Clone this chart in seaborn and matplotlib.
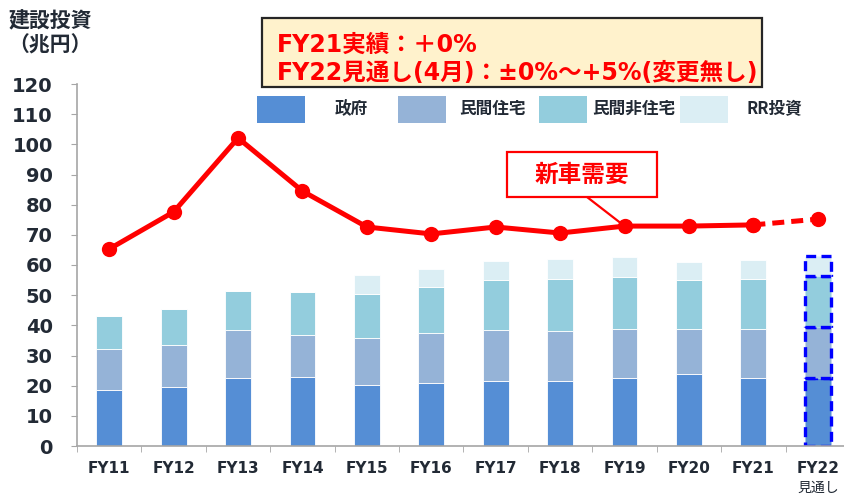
import numpy as np
import pandas as pd
import seaborn as sns
import matplotlib.pyplot as plt
from matplotlib.patches import Rectangle
from matplotlib.ticker import MultipleLocator, FixedLocator

# Data (兆円)
years = ['FY11', 'FY12', 'FY13', 'FY14', 'FY15', 'FY16',
         'FY17', 'FY18', 'FY19', 'FY20', 'FY21', 'FY22']
gov = [18.6, 19.7, 22.4, 22.8, 20.1, 21.0, 21.5, 21.5, 22.5, 23.9, 22.5, 22.6]
housing = [13.4, 13.9, 15.9, 14.1, 15.8, 16.5, 17.1, 16.6, 16.3, 14.9, 16.3, 16.9]
non_res = [11.2, 11.7, 13.0, 14.2, 14.6, 15.2, 16.4, 17.1, 17.2, 16.2, 16.6, 16.8]
rr = [0.0, 0.0, 0.0, 0.0, 6.3, 6.1, 6.3, 6.7, 6.6, 6.0, 6.3, 6.7]
new_car = [65.3, 77.6, 102.1, 84.5, 72.6, 70.3, 72.6, 70.6, 72.9, 72.9, 73.3, 75.2]

series_names = ['政府', '民間住宅', '民間非住宅', 'RR投資']
series_colors = ['#558ED5', '#95B3D7', '#93CDDD', '#DBEEF4']

sns.set_style('white')
plt.rcParams['font.family'] = ['DejaVu Sans', 'Noto Sans CJK JP']
jp = ['Noto Sans CJK JP', 'DejaVu Sans']
dark = '#222a35'
grey = '#a6a6a6'

df = pd.DataFrame({'year': years, '政府': gov, '民間住宅': housing,
                   '民間非住宅': non_res, 'RR投資': rr})

fig = plt.figure(figsize=(8.45, 4.95), dpi=100)
ax = fig.add_axes([77/845, 49/495, 773/845, 362/495])

# Stacked bars
bottom = np.zeros(len(years))
for name, col in zip(series_names, series_colors):
    sns.barplot(data=df, x='year', y=name, order=years, color=col, width=0.4,
                saturation=1, bottom=bottom, edgecolor='white', linewidth=0.6,
                ax=ax)
    bottom = bottom + df[name].values

# FY22 outlook bars: dashed blue outline
for p in ax.patches:
    cx = p.get_x() + p.get_width() / 2
    if abs(cx - 11) < 0.01 and p.get_height() > 0:
        p.set_edgecolor('#0000ff')
        p.set_linewidth(2.4)
        p.set_linestyle((0, (3, 1.6)))

# 新車需要 line
xpos = np.arange(len(years))
sns.lineplot(x=xpos[:11], y=new_car[:11], color='#ff0000', linewidth=3.6,
             marker='o', markersize=11, markeredgewidth=0, ax=ax, zorder=5)
sns.lineplot(x=xpos[10:], y=new_car[10:], color='#ff0000', linewidth=3.6,
             linestyle=(0, (2.4, 1.4)), marker='o', markersize=11,
             markeredgewidth=0, ax=ax, zorder=5)

ax.set_xlim(-0.5, 11.5)
ax.set_ylim(0, 120)
ax.set_xlabel('')
ax.set_ylabel('')
ax.yaxis.set_major_locator(MultipleLocator(10))
ax.xaxis.set_minor_locator(FixedLocator(np.arange(-0.5, 12, 1)))
ax.tick_params(axis='y', length=4.5, color=grey, pad=13, labelsize=14,
               labelcolor=dark, left=True)
ax.tick_params(axis='x', which='major', length=0, pad=11, labelsize=11,
               labelcolor=dark)
ax.tick_params(axis='x', which='minor', length=4, color=grey, bottom=True)
for lab in ax.get_xticklabels() + ax.get_yticklabels():
    lab.set_fontweight('bold')
for s in ['top', 'right']:
    ax.spines[s].set_visible(False)
for s in ['left', 'bottom']:
    ax.spines[s].set_color(grey)
    ax.spines[s].set_linewidth(1.2)

ax.text(11, -0.115, '見通し', transform=ax.get_xaxis_transform(), ha='center',
        va='center', fontsize=10, color=dark, family=jp)

# Y axis title
fig.text(50/845, 1 - 33/495, '建設投資\n（兆円）', ha='center', va='center',
         fontsize=15, fontweight='bold', color=dark, family=jp, linespacing=1.2)

# Legend (manual)
patch_x = [257, 398, 539, 680]
label_x = [351, 493, 634, 774]
for px, lx, name, col in zip(patch_x, label_x, series_names, series_colors):
    fig.add_artist(Rectangle((px/845, 372/495), 48/845, 27/495,
                             transform=fig.transFigure, facecolor=col,
                             edgecolor='none'))
    fig.text(lx/845, 386/495, name, ha='center', va='center', fontsize=12,
             fontweight='bold', color=dark, family=jp)

# Annotation box
fig.add_artist(Rectangle((262/845, 408/495), 500/845, 69/495,
                         transform=fig.transFigure, facecolor='#fff2cc',
                         edgecolor='#262626', linewidth=1.6))
fig.text(277/845, 450/495, 'FY21実績：＋0%', ha='left', va='center',
         fontsize=17, fontweight='bold', color='#ff0000')
fig.text(277/845, 422/495, 'FY22見通し(4月)：±0%～+5%(変更無し)', ha='left',
         va='center', fontsize=17, fontweight='bold', color='#ff0000')

# 新車需要 label
fig.add_artist(Rectangle((507/845, 298/495), 150/845, 45/495,
                         transform=fig.transFigure, facecolor='white',
                         edgecolor='#ff0000', linewidth=1.6, zorder=6))
fig.text(582/845, 320.5/495, '新車需要', ha='center', va='center', fontsize=17,
         fontweight='bold', color='#ff0000', family=jp, zorder=7)
ax.annotate('', xy=(8, new_car[8]), xytext=(587/845, 298/495),
            textcoords='figure fraction',
            arrowprops=dict(arrowstyle='-', color='#ff0000', lw=1.6,
                            shrinkA=0, shrinkB=0))

fig.savefig('out.png', dpi=100)
